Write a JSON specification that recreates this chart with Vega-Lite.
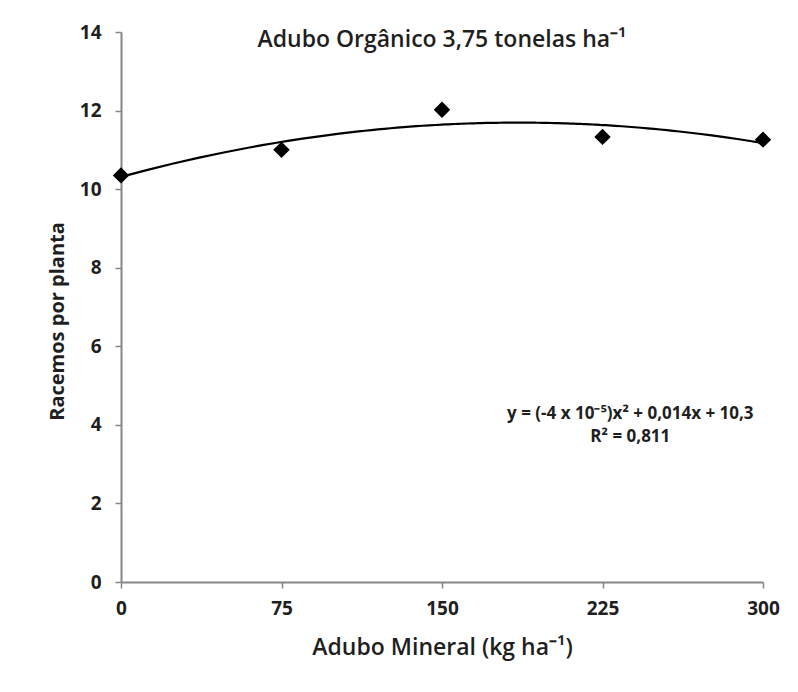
{
  "$schema": "https://vega.github.io/schema/vega-lite/v6.json",
  "width": 642,
  "height": 550,
  "autosize": {"type": "none"},
  "padding": {"left": 121, "top": 32, "right": 35, "bottom": 110},
  "background": "white",
  "config": {
    "font": "Open Sans",
    "view": {"stroke": null},
    "axis": {
      "grid": false,
      "domainColor": "#868686",
      "domainWidth": 2,
      "tickColor": "#868686",
      "tickWidth": 1.5,
      "tickSize": 6,
      "labelFont": "Open Sans",
      "labelFontWeight": "bold",
      "labelFontSize": 19,
      "labelColor": "#1f1f1f",
      "titleFont": "Open Sans",
      "titleColor": "#1f1f1f"
    }
  },
  "title": {
    "text": "Adubo Orgânico 3,75 tonelas ha⁻¹",
    "font": "Open Sans",
    "fontSize": 23,
    "fontWeight": 600,
    "color": "#1f1f1f",
    "anchor": "middle",
    "offset": -29
  },
  "datasets": {
    "pts": [
      {"x": 0, "y": 10.35},
      {"x": 75, "y": 11.0},
      {"x": 150, "y": 12.02},
      {"x": 225, "y": 11.33},
      {"x": 300, "y": 11.26}
    ],
    "ann": [
      {"x": 238, "y": 4.28, "t": "y = (-4 x 10⁻⁵)x² + 0,014x + 10,3"},
      {"x": 238, "y": 3.68, "t": "R² = 0,811"}
    ]
  },
  "layer": [
    {
      "data": {"name": "pts"},
      "transform": [
        {"regression": "y", "on": "x", "method": "poly", "order": 2, "extent": [0, 300]}
      ],
      "mark": {"type": "line", "color": "black", "strokeWidth": 2.2, "interpolate": "monotone"},
      "encoding": {
        "x": {
          "field": "x", "type": "quantitative",
          "scale": {"domain": [0, 300], "nice": false},
          "axis": {
            "values": [0, 75, 150, 225, 300],
            "title": "Adubo Mineral (kg ha⁻¹)",
            "titleFontSize": 23,
            "titleFontWeight": 600,
            "titlePadding": 18,
            "labelPadding": 11,
            "labelFlush": false
          }
        },
        "y": {
          "field": "y", "type": "quantitative",
          "scale": {"domain": [0, 14], "nice": false},
          "axis": {
            "values": [0, 2, 4, 6, 8, 10, 12, 14],
            "title": "Racemos por planta",
            "titleFontSize": 20,
            "titleFontWeight": "bold",
            "titlePadding": 12,
            "titleY": 289,
            "labelPadding": 14
          }
        }
      }
    },
    {
      "data": {"name": "pts"},
      "mark": {"type": "point", "shape": "diamond", "filled": true, "color": "black", "size": 270, "opacity": 1},
      "encoding": {
        "x": {"field": "x", "type": "quantitative"},
        "y": {"field": "y", "type": "quantitative"}
      }
    },
    {
      "data": {"name": "ann"},
      "mark": {"type": "text", "font": "Open Sans", "fontSize": 17, "fontWeight": "bold", "color": "#1f1f1f", "align": "center", "baseline": "middle"},
      "encoding": {
        "x": {"field": "x", "type": "quantitative"},
        "y": {"field": "y", "type": "quantitative"},
        "text": {"field": "t"}
      }
    }
  ]
}
